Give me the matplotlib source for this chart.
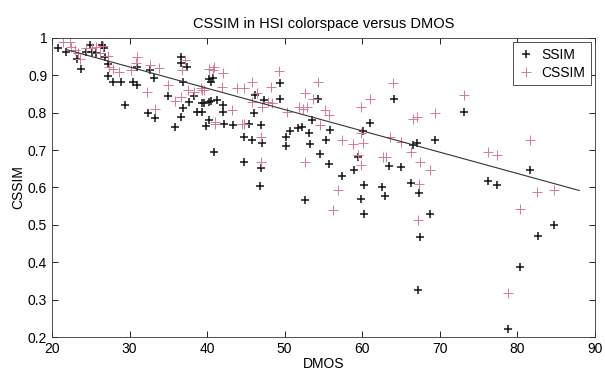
import matplotlib.pyplot as plt

# values
ssim_x = [20.8, 21.8, 23.2, 23.8, 24.4, 24.9, 25.1, 25.7, 26.4, 26.7, 26.8, 27.2, 27.2,
          27.8, 28.9, 29.4, 30.4, 31.0, 31.0, 32.4, 32.6, 33.3, 33.2, 35.0, 35.9, 36.6,
          36.6, 36.6, 36.9, 36.9, 37.7, 37.4, 38.3, 38.7, 39.3, 39.4, 39.6, 39.8, 40.3,
          40.3, 40.5, 40.8, 40.5, 40.2, 40.9, 41.3, 42.0, 42.2, 42.0, 43.4, 44.7, 44.7,
          45.4, 45.8, 46.0, 46.2, 46.9, 47.1, 46.9, 46.8, 47.3, 49.4, 49.4, 50.2, 50.2,
          50.7, 51.7, 52.2, 52.6, 53.3, 53.1, 53.5, 54.3, 54.6, 55.4, 55.7, 55.9, 57.4,
          58.9, 59.5, 59.8, 60.2, 60.2, 60.1, 61.0, 62.6, 63.0, 63.5, 64.1, 65.0, 66.3,
          66.5, 67.1, 67.3, 68.7, 69.4, 73.1, 76.2, 77.4, 81.7, 67.4, 67.2, 84.8, 82.7,
          80.3, 78.8]
ssim_y = [0.974, 0.962, 0.943, 0.917, 0.962, 0.981, 0.962, 0.959, 0.981, 0.972, 0.950,
          0.930, 0.899, 0.883, 0.883, 0.820, 0.883, 0.874, 0.923, 0.800, 0.914, 0.785,
          0.893, 0.845, 0.762, 0.789, 0.932, 0.950, 0.812, 0.883, 0.829, 0.923, 0.845,
          0.802, 0.802, 0.825, 0.827, 0.764, 0.889, 0.780, 0.832, 0.892, 0.883, 0.829,
          0.695, 0.834, 0.802, 0.771, 0.820, 0.767, 0.735, 0.668, 0.771, 0.728, 0.798,
          0.847, 0.767, 0.718, 0.651, 0.603, 0.834, 0.880, 0.838, 0.735, 0.710, 0.751,
          0.758, 0.761, 0.566, 0.716, 0.745, 0.780, 0.836, 0.689, 0.728, 0.662, 0.753,
          0.630, 0.648, 0.682, 0.568, 0.606, 0.530, 0.751, 0.773, 0.601, 0.577, 0.657,
          0.836, 0.655, 0.613, 0.713, 0.719, 0.585, 0.528, 0.727, 0.801, 0.617, 0.606,
          0.646, 0.467, 0.326, 0.501, 0.469, 0.387, 0.222]

cssim_x = [21.4, 22.3, 22.5, 22.9, 23.4, 23.6, 24.4, 25.1, 25.7, 26.6, 26.2, 27.2, 27.3,
           27.9, 28.7, 30.2, 30.9, 30.8, 32.3, 32.7, 33.3, 33.8, 35.0, 35.8, 36.6, 36.8,
           37.1, 37.6, 38.3, 39.2, 39.6, 40.3, 40.7, 40.9, 42.0, 39.4, 41.9, 41.0, 43.9,
           44.7, 43.2, 44.5, 44.7, 45.8, 46.4, 45.8, 47.1, 46.9, 46.9, 47.9, 48.2, 48.4,
           49.3, 50.3, 51.8, 52.4, 52.9, 52.6, 53.7, 54.3, 55.2, 55.7, 54.6, 52.6, 56.3,
           56.9, 57.4, 58.8, 59.9, 60.1, 59.8, 59.5, 61.0, 59.9, 62.7, 63.1, 64.0, 63.6,
           65.0, 66.3, 66.5, 67.1, 67.4, 67.3, 68.7, 67.2, 69.4, 73.1, 76.2, 77.4, 81.7,
           82.6, 84.8, 80.3, 78.8, 41.0]
cssim_y = [0.990, 0.990, 0.977, 0.968, 0.959, 0.943, 0.972, 0.972, 0.975, 0.979, 0.959,
           0.952, 0.923, 0.916, 0.910, 0.914, 0.950, 0.934, 0.856, 0.928, 0.811, 0.919,
           0.874, 0.831, 0.843, 0.914, 0.941, 0.861, 0.856, 0.865, 0.861, 0.916, 0.914,
           0.923, 0.905, 0.861, 0.869, 0.776, 0.865, 0.865, 0.807, 0.771, 0.769, 0.883,
           0.852, 0.829, 0.816, 0.735, 0.668, 0.829, 0.869, 0.825, 0.912, 0.802, 0.816,
           0.811, 0.816, 0.852, 0.838, 0.883, 0.807, 0.794, 0.767, 0.668, 0.539, 0.592,
           0.727, 0.716, 0.816, 0.718, 0.660, 0.686, 0.838, 0.745, 0.682, 0.682, 0.879,
           0.735, 0.722, 0.695, 0.782, 0.789, 0.668, 0.610, 0.646, 0.512, 0.800, 0.847,
           0.695, 0.686, 0.728, 0.588, 0.594, 0.543, 0.319, 0.771]

fit_x = [22, 88]
fit_y = [0.968, 0.592]

x_ticks = [20, 30, 40, 50, 60, 70, 80, 90]
y_ticks = [0.2, 0.3, 0.4, 0.5, 0.6, 0.7, 0.8, 0.9, 1.0]
y_labels = ["0.2", "0.3", "0.4", "0.5", "0.6", "0.7", "0.8", "0.9", "1"]


def main():
    plt.rcParams["font.family"] = ["Liberation Sans", "DejaVu Sans"]
    fig = plt.figure(figsize=(6.05, 3.72), dpi=100)
    ax = fig.add_axes([0.086, 0.094, 0.897, 0.804])

    ax.plot(ssim_x, ssim_y, "+", color="#151515", ms=6, mew=1.1, label="SSIM")
    ax.plot(cssim_x, cssim_y, "+", color="#d47a92", ms=7, mew=0.7, label="CSSIM")
    ax.plot(fit_x, fit_y, "-", color="#333333", lw=0.8)

    ax.set_xlim(20, 90)
    ax.set_ylim(0.2, 1.0)
    ax.set_xticks(x_ticks)
    ax.set_yticks(y_ticks)
    ax.set_yticklabels(y_labels)
    ax.tick_params(direction="in", top=True, right=True, labelsize=10, length=4, width=0.6)
    for s in ax.spines.values():
        s.set_linewidth(0.6)
        s.set_color("#333333")

    ax.set_xlabel("DMOS", fontsize=10, labelpad=1)
    ax.set_ylabel("CSSIM", fontsize=10, labelpad=2)
    ax.set_title("CSSIM in HSI colorspace versus DMOS", fontsize=10.5, pad=7)
    leg = ax.legend(loc="upper right", fontsize=10, fancybox=False, framealpha=1,
                    edgecolor="#333333", handlelength=1.0, borderaxespad=0.3,
                    handletextpad=0.6, labelspacing=0.3)
    leg.get_frame().set_linewidth(0.6)

    fig.savefig("out.png", dpi=100)


if __name__ == "__main__":
    main()
